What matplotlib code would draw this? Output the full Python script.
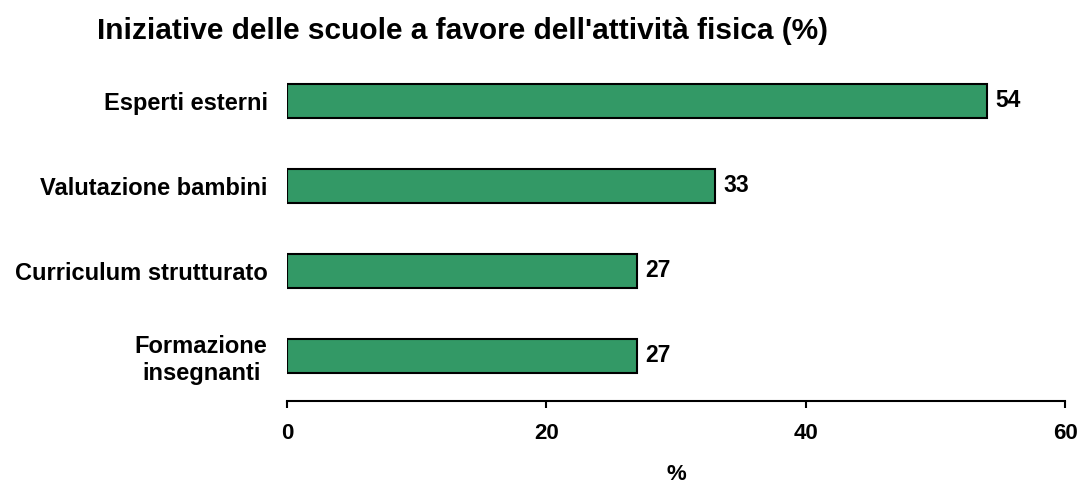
import matplotlib.pyplot as plt

plt.rcParams['font.family'] = ['Liberation Sans', 'DejaVu Sans']
plt.rcParams['font.weight'] = 'bold'

categories = ['Esperti esterni', 'Valutazione bambini', 'Curriculum strutturato', 'Formazione\ninsegnanti']
values = [54, 33, 27, 27]
xticks = [0, 20, 40, 60]

fig = plt.figure(figsize=(10.79, 4.83), dpi=100)
ax = fig.add_axes([287/1079, 1 - 401/483, (1065 - 287)/1079, (401 - 58)/483])

ypos = list(range(len(categories)))[::-1]
ax.barh(ypos, values, height=0.4, color='#339966', edgecolor='black', linewidth=1.5)

# value labels next to each bar
for y, v in zip(ypos, values):
    ax.annotate(str(v), (v, y), xytext=(6, 0), textcoords='offset points',
                va='center', ha='left', fontsize=16.5, fontweight='bold')

ax.set_xlim(0, 60)
ax.set_ylim(-0.53, 3.5)
ax.set_xticks(xticks)
ax.set_yticks(ypos)
ax.set_yticklabels(categories, fontsize=17, fontweight='bold', multialignment='center',
                   linespacing=1.2)
ax.tick_params(axis='y', length=0, pad=14)
ax.tick_params(axis='x', length=5, width=1.5, pad=11, labelsize=16, direction='out')
for s in ['top', 'right', 'left']:
    ax.spines[s].set_visible(False)
ax.spines['bottom'].set_linewidth(1.5)
ax.set_xlabel('%', fontsize=16, fontweight='bold', labelpad=14)

fig.text(97/1079, 1 - 31/483, "Iniziative delle scuole a favore dell'attività fisica (%)",
         fontsize=21.5, fontweight='bold', ha='left', va='center')

fig.savefig('out.png', dpi=100)
